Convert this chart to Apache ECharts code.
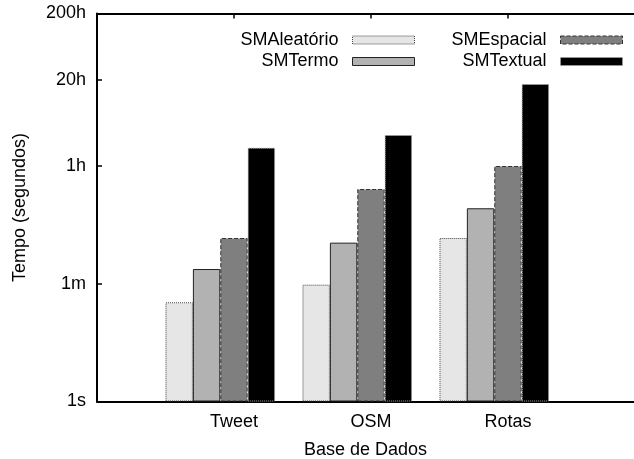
<!DOCTYPE html>
<html>
<head>
<meta charset="utf-8">
<script src="https://cdn.jsdelivr.net/npm/echarts@6/dist/echarts.min.js"></script>
<style>
html,body{margin:0;padding:0;background:#fff;}
#chart{width:634px;height:459px;}
</style>
</head>
<body>
<div id="chart"></div>
<script>
// ---- data ----
const categories = ['Tweet', 'OSM', 'Rotas'];
const seriesNames = ['SMAleatório', 'SMTermo', 'SMEspacial', 'SMTextual'];
const smAleatorio = [31.5, 58, 294];     // seconds
const smTermo = [100, 250, 826];
const smEspacial = [294, 1615, 3592];
const smTextual = [6790, 10550, 62100];
const yTickValues = [1, 60, 3600, 72000, 720000];
const yTickLabels = ['1s', '1m', '1h', '20h', '200h'];

// ---- styling ----
const FONT = "'Liberation Sans', Arial, Helvetica, sans-serif";
const fills = ['#e6e6e6', '#b2b2b2', '#7f7f7f', '#000000'];
const borders = [
  {c: '#444', t: 'dotted'},
  {c: '#222', t: 'solid'},
  {c: '#333', t: 'dashed'},
  {c: '#aaa', t: 'dotted'}
];
const values = [smAleatorio, smTermo, smEspacial, smTextual];
const slot = 0.2;          // width of one bar in category units
const barPx = 27.4;

const series = seriesNames.map((name, k) => ({
  name: name,
  type: 'bar',
  xAxisIndex: 0,
  barWidth: barPx,
  barGap: '-100%',
  itemStyle: {color: fills[k], borderColor: borders[k].c, borderWidth: 1, borderType: borders[k].t},
  emphasis: {disabled: true},
  data: categories.map((c, i) => [i + (k - 2) * slot, values[k][i]])
}));

const legendData = (names, offset) => names.map((n, j) => ({
  name: n,
  itemStyle: {
    color: fills[offset + j],
    borderColor: borders[offset + j].c,
    borderWidth: 1,
    borderType: borders[offset + j].t
  }
}));

const chart = echarts.init(document.getElementById('chart'), null, {renderer: 'canvas'});
const legendCommon = {
  orient: 'vertical',
  align: 'right',
  itemWidth: 62,
  itemHeight: 8,
  itemGap: 3.5,
  icon: 'rect',
  top: 26,
  selectedMode: false,
  textStyle: {fontFamily: FONT, fontSize: 18, color: '#000', padding: [0, 9, 0, 0]}
};
chart.setOption({
  animation: false,
  backgroundColor: '#fff',
  grid: {left: 97, right: 0, top: 13.5, bottom: 57.5, containLabel: false, outerBoundsMode: 'none'},
  legend: [
    Object.assign({}, legendCommon, {data: legendData(seriesNames.slice(0, 2), 0), right: 214}),
    Object.assign({}, legendCommon, {data: legendData(seriesNames.slice(2, 4), 2), right: 6})
  ],
  xAxis: [{
    type: 'value',
    min: -1,
    max: 2.92,
    position: 'bottom',
    name: 'Base de Dados',
    nameLocation: 'middle',
    nameGap: 40,
    nameTextStyle: {fontFamily: FONT, fontSize: 18, color: '#000'},
    axisLine: {show: true, onZero: false, lineStyle: {color: '#000', width: 2}},
    axisTick: {show: true, inside: true, length: 5, customValues: [0, 1, 2], lineStyle: {color: '#000', width: 1.5}},
    axisLabel: {
      fontFamily: FONT, fontSize: 18, color: '#000', margin: 12,
      customValues: [0, 1, 2],
      formatter: v => categories[Math.round(v)] || ''
    },
    splitLine: {show: false}
  }, {
    type: 'value',
    min: -1,
    max: 2.92,
    position: 'top',
    axisLine: {show: true, onZero: false, lineStyle: {color: '#000', width: 2}},
    axisTick: {show: true, inside: true, length: 5, customValues: [0, 1, 2], lineStyle: {color: '#000', width: 1.5}},
    axisLabel: {show: false},
    splitLine: {show: false}
  }],
  yAxis: {
    type: 'log',
    logBase: 10,
    min: 1,
    max: 720000,
    name: 'Tempo (segundos)',
    nameLocation: 'middle',
    nameGap: 68,
    nameRotate: 90,
    nameTextStyle: {fontFamily: FONT, fontSize: 18, color: '#000'},
    axisLine: {show: true, onZero: false, lineStyle: {color: '#000', width: 2}},
    axisTick: {show: true, inside: true, length: 5, customValues: yTickValues, lineStyle: {color: '#000', width: 1.5}},
    axisLabel: {
      fontFamily: FONT, fontSize: 18, color: '#000', margin: 11,
      customValues: yTickValues,
      formatter: v => {
        const idx = yTickValues.findIndex(t => Math.abs(Math.log10(t) - Math.log10(v)) < 1e-6);
        return idx >= 0 ? yTickLabels[idx] : '';
      }
    },
    splitLine: {show: false},
    minorTick: {show: false}
  },
  series: series
});
</script>
</body>
</html>
